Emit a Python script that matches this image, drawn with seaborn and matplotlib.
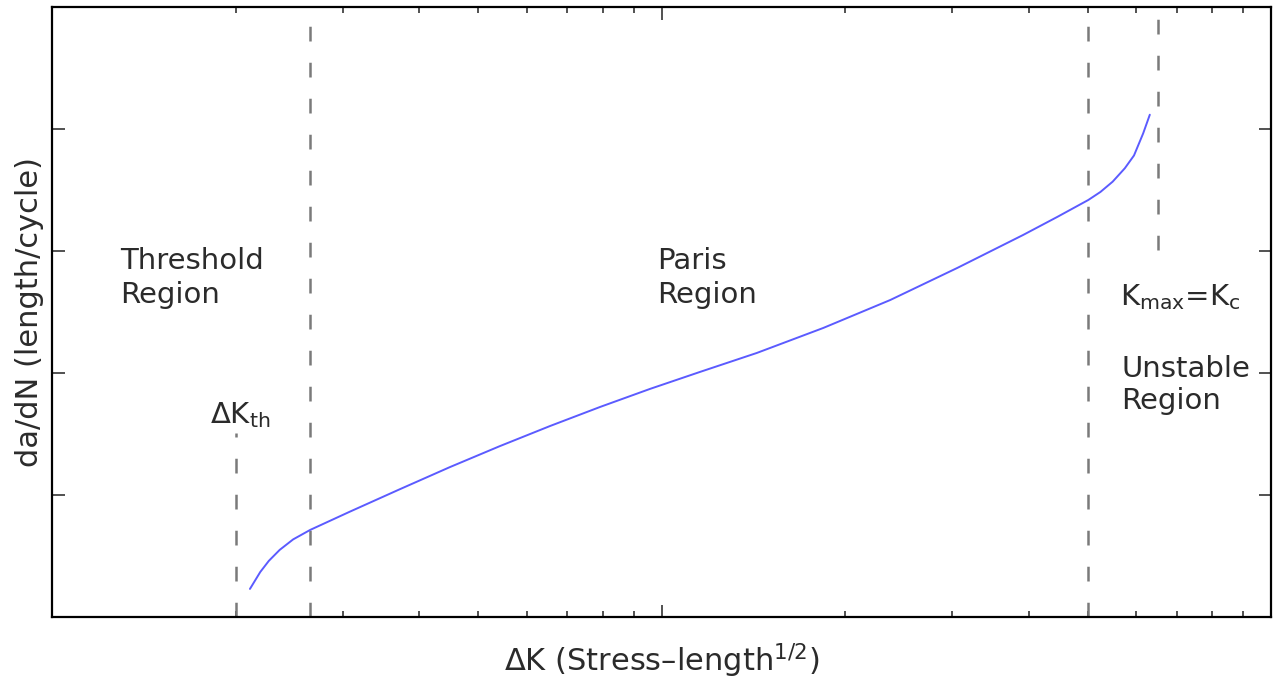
import numpy as np
import pandas as pd
import matplotlib
matplotlib.use("Agg")
import matplotlib.pyplot as plt
import matplotlib.ticker as mticker
import seaborn as sns

# crack growth curve (log-log)
delta_k = [2.109, 2.193, 2.265, 2.360, 2.483, 2.649, 3.076, 3.715, 4.487,
           5.420, 6.561, 7.925, 9.572, 11.56, 14.32, 18.41, 23.71, 30.55,
           39.17, 44.57, 50.12, 52.48, 54.95, 57.54, 59.57, 61.66, 63.24]
dadn = [1.698e-8, 2.339e-8, 2.884e-8, 3.548e-8, 4.325e-8, 5.176e-8,
        7.295e-8, 1.114e-7, 1.690e-7, 2.512e-7, 3.681e-7, 5.272e-7,
        7.413e-7, 1.021e-6, 1.459e-6, 2.339e-6, 3.963e-6, 7.261e-6,
        1.352e-5, 1.901e-5, 2.618e-5, 3.048e-5, 3.698e-5, 4.764e-5,
        6.067e-5, 9.183e-5, 1.309e-4]

# region boundaries (dashed lines): dK threshold, Paris start, Paris end, Kc
boundary_dk = [2.0, 2.65, 50.0, 65.2]
boundary_lo = [1e-8, 1e-8, 1e-8, 1.02e-5]
boundary_hi = [3.22e-7, 1e-3, 1e-3, 7.97e-4]

x_lim = (1, 100)
y_lim = (1e-8, 1e-3)

sns.set_style("ticks")
plt.rcParams["font.family"] = ["DejaVu Sans"]
plt.rcParams["mathtext.default"] = "regular"

df = pd.DataFrame({"dK": delta_k, "dadN": dadn})

fig = plt.figure(figsize=(12.74, 6.78), dpi=100)
ax = fig.add_axes([0.0412, 0.09, 0.9565, 0.8997])
ax.set_xscale("log")
ax.set_yscale("log")

ax.vlines(boundary_dk, boundary_lo, boundary_hi, colors="#7a7a7a",
          linewidth=1.8, linestyles=[(0, (5.9, 8.5))])
sns.lineplot(data=df, x="dK", y="dadN", ax=ax, color="#5b5bff",
             linewidth=1.4, sort=False, estimator=None)

ax.set_xlim(*x_lim)
ax.set_ylim(*y_lim)
ax.yaxis.set_major_locator(mticker.LogLocator(base=10, numticks=10))
ax.yaxis.set_minor_locator(mticker.NullLocator())
ax.xaxis.set_major_locator(mticker.LogLocator(base=10, numticks=10))
ax.xaxis.set_minor_locator(mticker.LogLocator(base=10, subs=np.arange(2, 10), numticks=10))

ax.tick_params(which="both", direction="in", top=True, right=True,
               labelbottom=False, labelleft=False, color="#333333", width=1.2)
ax.tick_params(which="major", length=9)
ax.tick_params(which="minor", length=4.5)
for sp in ax.spines.values():
    sp.set_linewidth(1.6)
    sp.set_color("black")

txt = dict(fontsize=21, color="#2b2b2b", va="baseline", ha="left")
ax.text(1.291, 7.11e-6, "Threshold", **txt)
ax.text(1.291, 3.75e-6, "Region", **txt)
ax.text(9.82, 7.11e-6, "Paris", **txt)
ax.text(9.82, 3.75e-6, "Region", **txt)
ax.text(1.813, 3.89e-7, r"$\Delta K_{th}$", **txt)
ax.text(56.5, 3.60e-6, r"$K_{max}$=$K_c$", **txt)
ax.text(56.8, 9.27e-7, "Unstable", **txt)
ax.text(56.8, 5.07e-7, "Region", **txt)

ax.set_xlabel(r"$\Delta$K (Stress–length$^{1/2}$)", fontsize=22,
              color="#2b2b2b", labelpad=18)
ax.set_ylabel("da/dN (length/cycle)", fontsize=22, color="#2b2b2b",
              labelpad=6)

fig.savefig("out.png", dpi=100)
